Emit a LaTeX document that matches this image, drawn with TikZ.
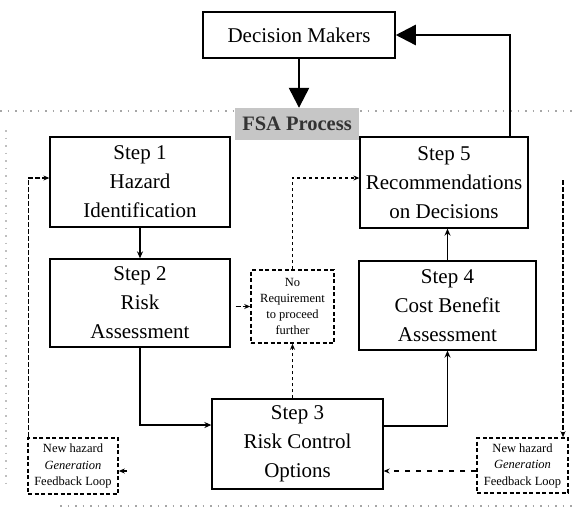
\documentclass[tikz,border=0pt]{standalone}
\usepackage{fontspec}
\setmainfont{Liberation Serif}
\usetikzlibrary{arrows.meta,positioning}
\tikzset{
  stepbox/.style={draw,line width=1.3pt,minimum width=#1,align=center,inner sep=0pt,
    font=\fontsize{21}{29}\selectfont},
  notebox/.style={draw,line width=1.6pt,dash pattern=on 4pt off 2.5pt,align=center,inner sep=0pt,
    font=\fontsize{12.5}{16.5}\selectfont},
  flow/.style={line width=1.4pt,-{Stealth[length=7pt,width=6pt]}},
  bigflow/.style={line width=2.4pt,-{Triangle[length=20pt,width=20pt]}},
  dotflow/.style={line width=1.1pt,dash pattern=on 3pt off 3pt,-{Stealth[length=6pt,width=5pt]}},
  dashflow/.style={line width=1.2pt,dash pattern=on 5pt off 2pt,-{Stealth[length=6pt,width=5pt]}},
  loosedash/.style={line width=1.1pt,dash pattern=on 5pt off 6pt,-{Stealth[length=6pt,width=5pt]}},
  guide/.style={gray!70,line width=1.2pt,dash pattern=on 1.5pt off 6pt}
}
\begin{document}
\begin{tikzpicture}[x=1pt,y=-1pt]
\useasboundingbox (0,0) rectangle (575,512);
% guide dotted lines
\draw[guide] (0,111) -- (575,111);
\draw[guide] (60,506) -- (575,506);
\draw[guide,gray!50] (6,130) -- (6,490);

% nodes
\node[draw,line width=1.5pt,minimum width=192pt,minimum height=46pt,inner sep=0pt,
  font=\fontsize{21}{25}\selectfont] (dm) at (299,35) {Decision Makers};
\node[fill=gray!45,minimum width=124pt,minimum height=32pt,inner sep=0pt,text=black!80,
  font=\fontsize{20.5}{24}\selectfont\bfseries] (fsa) at (297,124) {FSA Process};

\node[stepbox=180pt,minimum height=90pt] (s1) at (140,182) {Step 1\\Hazard\\Identification};
\node[stepbox=168pt,minimum height=91pt] (s5) at (444,182.5) {Step 5\\Recommendations\\on Decisions};
\node[stepbox=180pt,minimum height=88pt] (s2) at (140,303) {Step 2\\Risk\\Assessment};
\node[stepbox=177pt,minimum height=89pt] (s4) at (447.5,305.5) {Step 4\\Cost Benefit\\Assessment};
\node[stepbox=171pt,minimum height=90pt] (s3) at (297.5,444) {Step 3\\Risk Control\\Options};

\node[notebox,minimum width=83pt,minimum height=73pt,
  font=\fontsize{12.5}{16}\selectfont] (nr) at (292.5,306.5) {No\\Requirement\\to proceed\\further};
\node[notebox,minimum width=90pt,minimum height=56pt] (nhl) at (73,466) {New hazard\\\textit{Generation}\\Feedback Loop};
\node[notebox,minimum width=91pt,minimum height=55pt] (nhr) at (522.5,465.5) {New hazard\\\textit{Generation}\\Feedback Loop};

% big arrows
\draw[bigflow] (dm.south) -- (dm.south |- fsa.north);
\draw[bigflow] ([xshift=66pt]s5.north) |- (dm.east);

% solid flow
\draw[flow] (s1.south) -- (s2.north);
\draw[flow] (s2.south) |- ([yshift=19pt]s3.west);
\draw[flow] ([yshift=18pt]s3.east) -| (s4.south);
\draw[flow] (s4.north) -- (s4.north |- s5.south);

% dotted / dashed
\draw[dashflow] ([xshift=5pt]s2.east |- nr.west) -- (nr.west);
\draw[dotflow] (nr.south |- s3.north) -- (nr.south);
\draw[dotflow] (nr.north) |- ([yshift=4.5pt]s5.west);
\draw[dashflow] ([xshift=1pt]nhl.north west) |- ([yshift=4pt]s1.west);
\coordinate (rs) at (563,180);
\draw[dashflow] (rs) -- (rs |- nhr.north);
\draw[loosedash] (nhr.west |- 0,471) -- (s3.east |- 0,471);
\coordinate (ls) at (127,471);
\draw[dashflow] (ls) -- (nhl.east |- ls);
\end{tikzpicture}
\end{document}
